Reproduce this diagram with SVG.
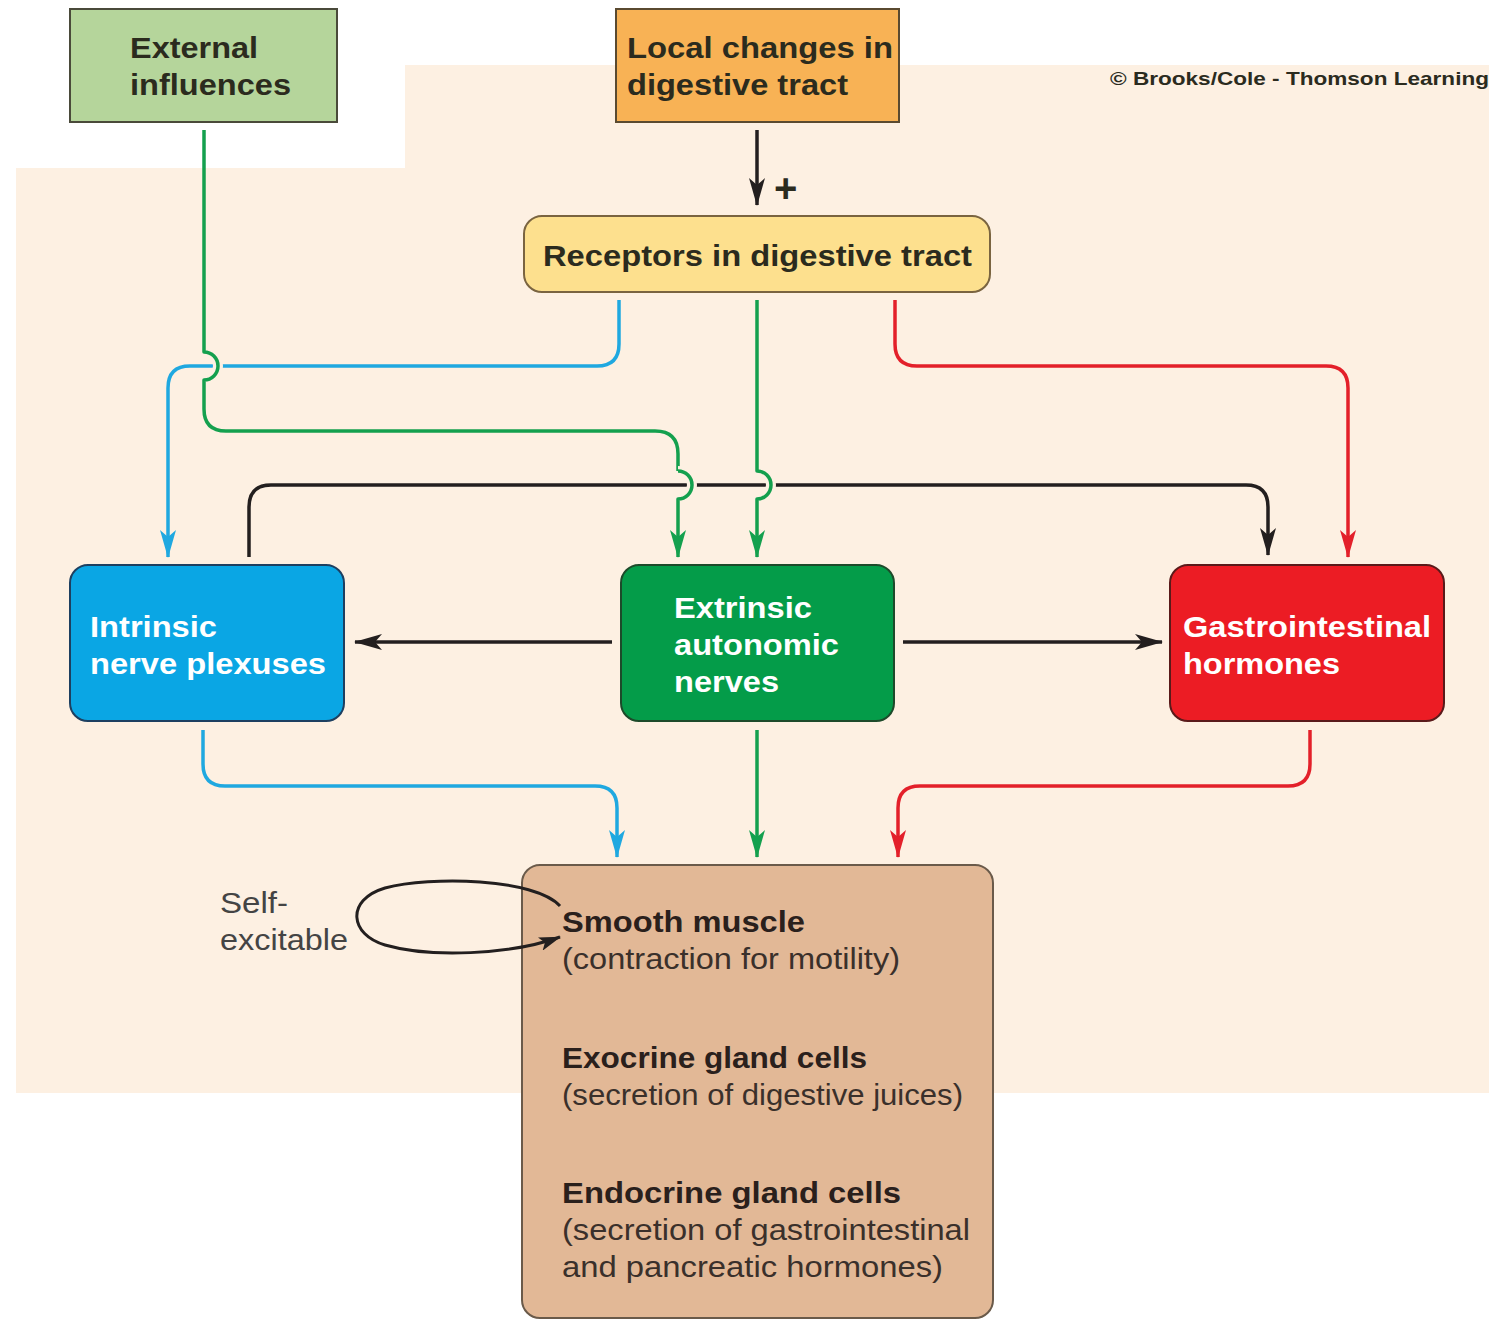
<svg xmlns="http://www.w3.org/2000/svg" width="1489" height="1321" viewBox="0 0 1489 1321">
<style>
.t{font-family:"Liberation Sans",Arial,sans-serif;font-size:30px;font-weight:bold;fill:#2b2b1e}
.w{font-family:"Liberation Sans",Arial,sans-serif;font-size:30px;font-weight:bold;fill:#ffffff}
.b{font-family:"Liberation Sans",Arial,sans-serif;font-size:29px;font-weight:bold;fill:#2a201c}
.r{font-family:"Liberation Sans",Arial,sans-serif;font-size:29px;fill:#3a302b}
.c{fill:none;stroke-width:3.5;stroke-linecap:butt;stroke-linejoin:round}
.bl{stroke:#1fa8e0}.gr{stroke:#14a04e}.rd{stroke:#e3202a}.bk{stroke:#231f1f}
.gap{fill:none;stroke:#fdf0e2;stroke-width:10}
</style>
<defs>
<marker id="aBl" viewBox="0 0 28 16" refX="27" refY="8" markerWidth="28" markerHeight="16" markerUnits="userSpaceOnUse" orient="auto"><path d="M0,0 L28,8 L0,16 L7,8 Z" fill="#1fa8e0"/></marker>
<marker id="aGr" viewBox="0 0 28 16" refX="27" refY="8" markerWidth="28" markerHeight="16" markerUnits="userSpaceOnUse" orient="auto"><path d="M0,0 L28,8 L0,16 L7,8 Z" fill="#14a04e"/></marker>
<marker id="aRd" viewBox="0 0 28 16" refX="27" refY="8" markerWidth="28" markerHeight="16" markerUnits="userSpaceOnUse" orient="auto"><path d="M0,0 L28,8 L0,16 L7,8 Z" fill="#e3202a"/></marker>
<marker id="aBk" viewBox="0 0 28 16" refX="27" refY="8" markerWidth="28" markerHeight="16" markerUnits="userSpaceOnUse" orient="auto"><path d="M0,0 L28,8 L0,16 L7,8 Z" fill="#231f1f"/></marker>
<marker id="aBkS" viewBox="0 0 22 14" refX="21" refY="7" markerWidth="22" markerHeight="14" markerUnits="userSpaceOnUse" orient="auto"><path d="M0,0 L22,7 L0,14 L5,7 Z" fill="#231f1f"/></marker>
</defs>
<rect width="1489" height="1321" fill="#ffffff"/>
<polygon points="16,168 405,168 405,65 1489,65 1489,1093 16,1093" fill="#fdf0e2"/>
<text class="t" x="1110" y="85" style="font-size:19px" textLength="379" lengthAdjust="spacingAndGlyphs">© Brooks/Cole - Thomson Learning</text>

<g id="external">
<rect x="70" y="9" width="267" height="113" fill="#b5d59b" stroke="#4a4a3a" stroke-width="2"/>
<text class="t" x="130" y="58" textLength="128" lengthAdjust="spacingAndGlyphs">External</text>
<text class="t" x="130" y="95" textLength="161" lengthAdjust="spacingAndGlyphs">influences</text>
</g>
<g id="local">
<rect x="616" y="9" width="283" height="113" fill="#f8b255" stroke="#5a4a30" stroke-width="2"/>
<text class="t" x="627" y="58" textLength="266" lengthAdjust="spacingAndGlyphs">Local changes in</text>
<text class="t" x="627" y="95" textLength="221" lengthAdjust="spacingAndGlyphs">digestive tract</text>
</g>
<g id="receptors">
<rect x="524" y="216" width="466" height="76" rx="18" fill="#fde08e" stroke="#7a6440" stroke-width="2"/>
<text class="t" x="543" y="266" textLength="429" lengthAdjust="spacingAndGlyphs">Receptors in digestive tract</text>
</g>
<g id="intrinsic">
<rect x="70" y="565" width="274" height="156" rx="18" fill="#0aa6e4" stroke="#1d3f60" stroke-width="2"/>
<text class="w" x="90" y="637" textLength="127" lengthAdjust="spacingAndGlyphs">Intrinsic</text>
<text class="w" x="90" y="674" textLength="236" lengthAdjust="spacingAndGlyphs">nerve plexuses</text>
</g>
<g id="extrinsic">
<rect x="621" y="565" width="273" height="156" rx="18" fill="#049c49" stroke="#1d4a2a" stroke-width="2"/>
<text class="w" x="674" y="618" textLength="138" lengthAdjust="spacingAndGlyphs">Extrinsic</text>
<text class="w" x="674" y="655" textLength="165" lengthAdjust="spacingAndGlyphs">autonomic</text>
<text class="w" x="674" y="692" textLength="105" lengthAdjust="spacingAndGlyphs">nerves</text>
</g>
<g id="gi">
<rect x="1170" y="565" width="274" height="156" rx="18" fill="#ec1c24" stroke="#5a1a1a" stroke-width="2"/>
<text class="w" x="1183" y="637" textLength="248" lengthAdjust="spacingAndGlyphs">Gastrointestinal</text>
<text class="w" x="1183" y="674" textLength="157" lengthAdjust="spacingAndGlyphs">hormones</text>
</g>
<g id="effectors">
<rect x="522" y="865" width="471" height="453" rx="18" fill="#e2b896" stroke="#6a5a4a" stroke-width="2"/>
<text class="b" x="562" y="932" textLength="243" lengthAdjust="spacingAndGlyphs">Smooth muscle</text>
<text class="r" x="562" y="969" textLength="338" lengthAdjust="spacingAndGlyphs">(contraction for motility)</text>
<text class="b" x="562" y="1068" textLength="305" lengthAdjust="spacingAndGlyphs">Exocrine gland cells</text>
<text class="r" x="562" y="1105" textLength="401" lengthAdjust="spacingAndGlyphs">(secretion of digestive juices)</text>
<text class="b" x="562" y="1203" textLength="339" lengthAdjust="spacingAndGlyphs">Endocrine gland cells</text>
<text class="r" x="562" y="1240" textLength="408" lengthAdjust="spacingAndGlyphs">(secretion of gastrointestinal</text>
<text class="r" x="562" y="1277" textLength="381" lengthAdjust="spacingAndGlyphs">and pancreatic hormones)</text>
</g>
<g id="self-excitable">
<text class="r" x="220" y="913" style="fill:#444" textLength="68" lengthAdjust="spacingAndGlyphs">Self-</text>
<text class="r" x="220" y="950" style="fill:#444" textLength="128" lengthAdjust="spacingAndGlyphs">excitable</text>
</g>

<g id="connectors">
<path class="c bk" d="M757,130 V205" marker-end="url(#aBk)"/>
<text class="t" x="774" y="202" style="font-size:40px">+</text>
<path class="c bk" d="M249,557 V507 Q249,485 271,485 H1246 Q1268,485 1268,507 V555" marker-end="url(#aBk)"/>
<path class="c bl" d="M619,300 V344 Q619,366 597,366 H190 Q168,366 168,388 V557" marker-end="url(#aBl)"/>
<path class="gap" d="M204,352 A14,14 0 0 1 204,380"/>
<path class="c gr" d="M204,130 V352 A14,14 0 0 1 204,380 V409 Q204,431 226,431 H655 Q678,431 678,454 V471"/>
<path class="gap" d="M678,471 A14,14 0 0 1 678,499"/>
<path class="c gr" d="M678,471 A14,14 0 0 1 678,499 V557" marker-end="url(#aGr)"/>
<path class="gap" d="M757,471 A14,14 0 0 1 757,499"/>
<path class="c gr" d="M757,300 V471 A14,14 0 0 1 757,499 V557" marker-end="url(#aGr)"/>
<path class="c rd" d="M895,300 V344 Q895,366 917,366 H1326 Q1348,366 1348,388 V557" marker-end="url(#aRd)"/>
<path class="c bk" d="M612,642 H355" marker-end="url(#aBk)"/>
<path class="c bk" d="M903,642 H1162" marker-end="url(#aBk)"/>
<path class="c bl" d="M203,730 V764 Q203,786 225,786 H595 Q617,786 617,808 V857" marker-end="url(#aBl)"/>
<path class="c gr" d="M757,730 V857" marker-end="url(#aGr)"/>
<path class="c rd" d="M1310,730 V764 Q1310,786 1288,786 H920 Q898,786 898,808 V857" marker-end="url(#aRd)"/>
<path class="c bk" style="stroke-width:3" d="M560,906 C535,878 430,876 385,888 C345,900 350,935 385,945 C430,958 510,955 560,937" marker-end="url(#aBkS)"/>
</g>
</svg>
